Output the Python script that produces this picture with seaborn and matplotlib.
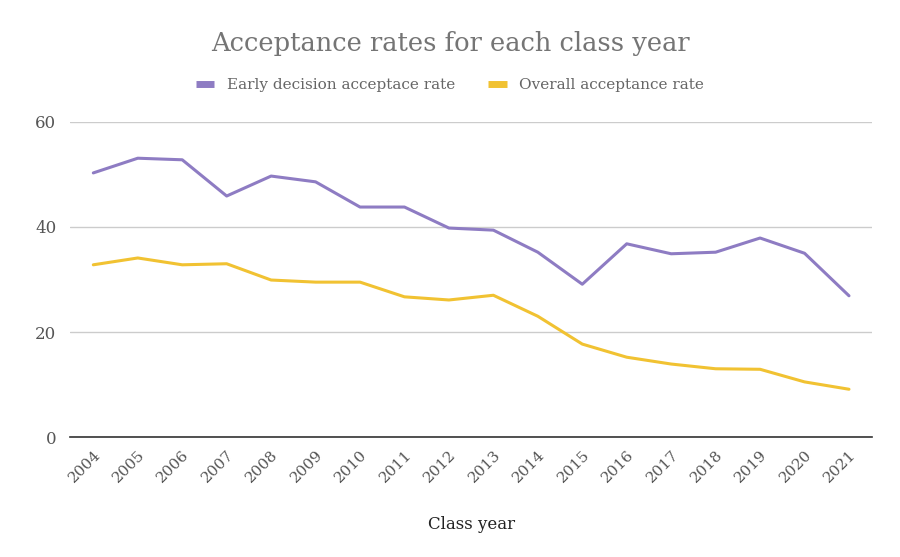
import matplotlib
matplotlib.use("Agg")
import matplotlib.pyplot as plt
import numpy as np
import pandas as pd
import seaborn as sns

years = list(range(2004, 2022))
early_decision = [50.3, 53.1, 52.8, 45.9, 49.7, 48.6, 43.8, 43.8, 39.8, 39.4,
                  35.2, 29.1, 36.8, 34.9, 35.2, 37.9, 35.0, 26.9]
overall = [32.8, 34.1, 32.8, 33.0, 29.9, 29.5, 29.5, 26.7, 26.1, 27.0,
           23.0, 17.7, 15.2, 13.9, 13.0, 12.9, 10.5, 9.1]
series_names = ["Early decision acceptace rate", "Overall acceptance rate"]
colors = ["#8e7cc3", "#f1c232"]

sns.set_style("white")
plt.rcParams['font.family'] = ['DejaVu Serif']

df = pd.DataFrame({
    "year": years * 2,
    "rate": early_decision + overall,
    "series": [series_names[0]] * len(years) + [series_names[1]] * len(years),
})

fig = plt.figure(figsize=(9, 5.57), dpi=100)
ax = fig.add_axes([0.078, 0.2154, 0.891, 0.5656])

sns.lineplot(data=df, x="year", y="rate", hue="series", palette=colors,
             linewidth=2.2, ax=ax, legend=False)

ax.set_ylim(0, 60)
ax.set_xlim(years[0] - 0.52, years[-1] + 0.52)
ax.set_yticks([0, 20, 40, 60])
ax.set_xticks(years)
ax.set_xticklabels([str(y) for y in years], rotation=45, ha="right",
                   rotation_mode="anchor", fontsize=11, color="#555555")
ax.tick_params(axis="y", labelsize=12, colors="#555555", length=0, pad=10)
ax.tick_params(axis="x", length=0, pad=8)
ax.yaxis.grid(True, color="#cccccc", linewidth=1)
ax.xaxis.grid(False)
for s in ["top", "right", "left"]:
    ax.spines[s].set_visible(False)
ax.spines["bottom"].set_color("#333333")
ax.spines["bottom"].set_linewidth(1.2)
ax.set_ylabel("")
ax.set_xlabel("Class year", fontsize=12, color="#222222", labelpad=22)

fig.text(0.5, 0.922, "Acceptance rates for each class year", ha="center",
         va="center", fontsize=18.5, color="#757575")

handles = [plt.Line2D([0], [0], color=c, linewidth=5, solid_capstyle="butt")
           for c in colors]
fig.legend(handles, series_names, loc="center", bbox_to_anchor=(0.5, 0.847),
           ncol=2, frameon=False, fontsize=11, handlelength=1.2,
           columnspacing=2.2, labelcolor="#666666")

plt.savefig("out.png", dpi=100)
